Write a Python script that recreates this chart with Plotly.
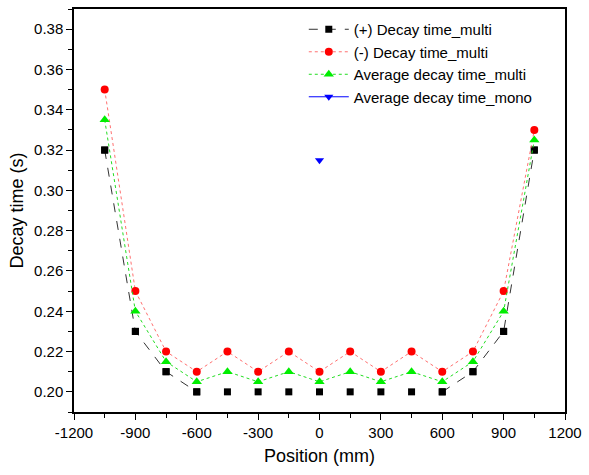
import plotly.graph_objects as go

position = [-1050, -900, -750, -600, -450, -300, -150, 0, 150, 300, 450, 600, 750, 900, 1050]
plus_multi = [0.32, 0.23, 0.21, 0.20, 0.20, 0.20, 0.20, 0.20, 0.20, 0.20, 0.20, 0.20, 0.21, 0.23, 0.32]
minus_multi = [0.35, 0.25, 0.22, 0.21, 0.22, 0.21, 0.22, 0.21, 0.22, 0.21, 0.22, 0.21, 0.22, 0.25, 0.33]
avg_multi = [0.335, 0.24, 0.215, 0.205, 0.21, 0.205, 0.21, 0.205, 0.21, 0.205, 0.21, 0.205, 0.215, 0.24, 0.325]
mono_pos = [0]
avg_mono = [0.315]

x_ticks = list(range(-1200, 1201, 300))
y_ticks = [0.20, 0.22, 0.24, 0.26, 0.28, 0.30, 0.32, 0.34, 0.36, 0.38]

# the black line is only drawn on the rising ends
plus_line = [v if abs(p) >= 600 else None for p, v in zip(position, plus_multi)]

font = 'Arial, Liberation Sans'

fig = go.Figure()
fig.add_trace(go.Scatter(x=position, y=plus_line, mode='lines+markers', name='(+) Decay time_multi',
                         line=dict(color='#333333', width=1, dash='dash'),
                         marker=dict(symbol='square', size=7, color='black')))
fig.add_trace(go.Scatter(x=position, y=plus_multi, mode='markers', showlegend=False,
                         marker=dict(symbol='square', size=7, color='black')))
fig.add_trace(go.Scatter(x=position, y=minus_multi, mode='lines+markers', name='(-) Decay time_multi',
                         line=dict(color='#ff7070', width=1, dash='dot'),
                         marker=dict(symbol='circle', size=8, color='red')))
fig.add_trace(go.Scatter(x=position, y=avg_multi, mode='lines+markers', name='Average decay time_multi',
                         line=dict(color='#22dd22', width=1, dash='dot'),
                         marker=dict(symbol='triangle-up', size=9, color='#00ee00')))
fig.add_trace(go.Scatter(x=mono_pos, y=avg_mono, mode='lines+markers', name='Average decay time_mono',
                         line=dict(color='blue', width=1),
                         marker=dict(symbol='triangle-down', size=8, color='blue')))

axis_common = dict(showline=True, linecolor='black', linewidth=1.5, mirror=True, showgrid=False,
                   zeroline=False, ticks='outside', ticklen=6, tickwidth=1.2, tickcolor='black',
                   tickfont=dict(family=font, size=15, color='black'))

fig.update_xaxes(range=[-1200, 1200], tickvals=x_ticks, ticktext=[str(t) for t in x_ticks],
                 minor=dict(ticks='outside', ticklen=4, tickcolor='black', dtick=150),
                 title=dict(text='Position (mm)', font=dict(family=font, size=18, color='black'), standoff=10),
                 **axis_common)
fig.update_yaxes(range=[0.19, 0.39], tickvals=y_ticks, ticktext=['%.2f' % t for t in y_ticks],
                 minor=dict(ticks='outside', ticklen=4, tickcolor='black', dtick=0.01),
                 title=dict(text='Decay time (s)', font=dict(family=font, size=18, color='black'), standoff=6),
                 **axis_common)

fig.update_layout(width=589, height=475, margin=dict(l=74, r=18, t=7, b=63),
                  plot_bgcolor='white', paper_bgcolor='white',
                  legend=dict(x=0.468, y=0.99, xanchor='left', yanchor='top', bgcolor='rgba(0,0,0,0)',
                              font=dict(family=font, size=15, color='black'),
                              tracegroupgap=0, itemwidth=40))

fig.write_html("out.html", config={'displayModeBar': False},
               post_script="document.body.style.margin='0';")
